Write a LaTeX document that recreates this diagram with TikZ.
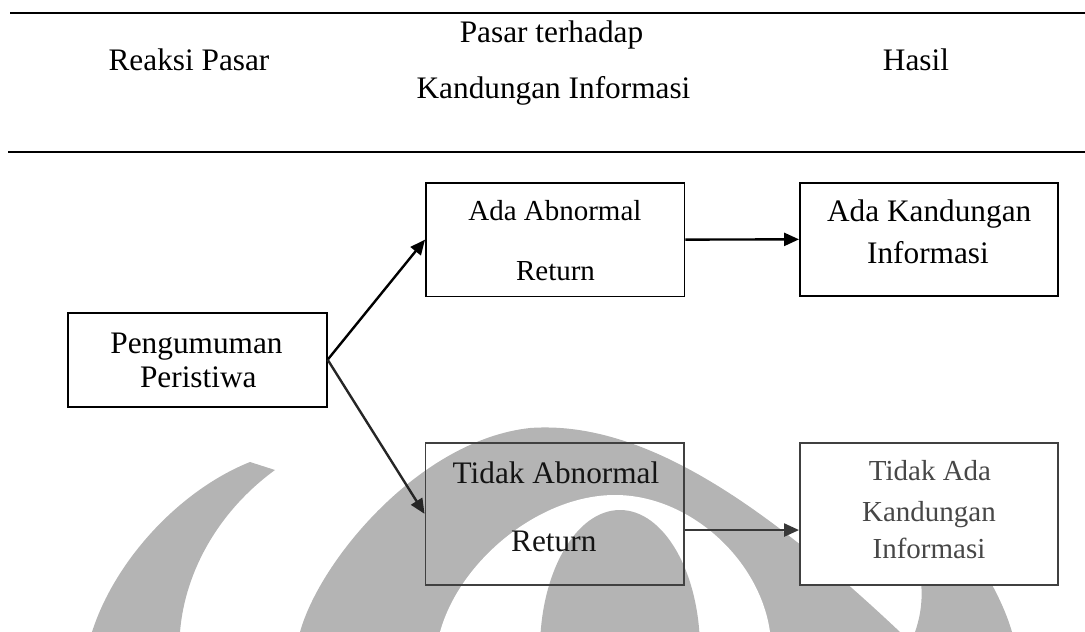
\documentclass[tikz,border=0pt]{standalone}
\usepackage{fontspec}
\setmainfont{Liberation Serif}
\usetikzlibrary{arrows.meta}
\definecolor{wmgray}{HTML}{B4B4B4}
\newcommand\fBig{\fontsize{31.3}{36}\selectfont}
\newcommand\fMid{\fontsize{29}{34}\selectfont}
\tikzset{
  rule/.style={line width=2.4pt},
  hdr/.style={anchor=base, inner sep=0pt, font=\fBig},
  txt/.style={anchor=base, inner sep=0pt, font=\fBig},
  txtm/.style={anchor=base, inner sep=0pt, font=\fMid},
  boxnode/.style={draw, line width=1.9pt, inner sep=0pt, fill=white},
  arr/.style={line width=2.4pt, -{Triangle[length=15pt,width=13pt]}},
  wm/.style={fill=wmgray, draw=none},
}
\begin{document}
\begin{tikzpicture}[x=1pt,y=-1pt]
\useasboundingbox (0,0) rectangle (1085,632);
% watermark (background logo)
\fill[wm] (300,632) .. controls (320,560) and (420,440) .. (530,428)
  .. controls (640,420) and (760,500) .. (900,632) -- cycle;
\fill[white] (440,632) .. controls (460,560) and (540,495) .. (615,495)
  .. controls (690,495) and (760,560) .. (770,632) -- cycle;
\fill[wm] (620,650) ellipse [x radius=80, y radius=140];
\fill[wm] (92,632) .. controls (115,560) and (180,490) .. (250,462)
  -- (275,470) .. controls (220,510) and (185,570) .. (180,632) -- cycle;
\fill[wm] (1012,632) .. controls (1000,590) and (960,520) .. (900,480)
  -- (880,500) .. controls (920,540) and (930,590) .. (915,632) -- cycle;
% header rules
\coordinate (r1a) at (10,12.7);  \coordinate (r1b) at (1085,12.7);
\coordinate (r2a) at (8,151.7);  \coordinate (r2b) at (1085,151.7);
\draw[rule] (r1a) -- (r1b);
\draw[rule] (r2a) -- (r2b);
% header texts
\node[hdr] (h1) at (189,70) {Reaksi Pasar};
\node[hdr] (h2a) at (551.5,42.5) {Pasar terhadap};
\node[hdr] (h2b) at (553.5,98.5) {Kandungan Informasi};
\node[hdr] (h3) at (916,70) {Hasil};
% boxes
\node[boxnode, minimum width=258.7pt, minimum height=94pt] (P) at (197.35,359.7) {};
\node[boxnode, minimum width=258.5pt, minimum height=113.8pt] (A) at (555.25,239.6) {};
\node[boxnode, minimum width=258pt, minimum height=113.3pt] (K) at (929,239.35) {};
\node[draw=black!75, line width=1.9pt, inner sep=0pt, minimum width=258.5pt, minimum height=142.3pt] (T) at (554.75,513.85) {};
\node[boxnode, draw=black!75, minimum width=258pt, minimum height=142.3pt] (N) at (929,513.85) {};
% box texts
\node[txt] (p1) at (196.5,353.3) {Pengumuman};
\node[txt] (p2) at (198.3,387) {Peristiwa};
\node[txtm] (a1) at (554.9,220.5) {Ada Abnormal};
\node[txtm] (a2) at (555.5,280) {Return};
\node[txt] (k1) at (929.2,221.7) {Ada Kandungan};
\node[txt] (k2) at (928,263) {Informasi};
\node[txt, text=black!92] (t1) at (556,483.3) {Tidak Abnormal};
\node[txt, text=black!92] (t2) at (553.8,551.7) {Return};
\node[txtm, text=black!72] (n1) at (930,480) {Tidak Ada};
\node[txtm, text=black!72] (n2) at (929,521.7) {Kandungan};
\node[txtm, text=black!72] (n3) at (929,558) {Informasi};
% connectors
\draw[arr] (P.east) -- (A.west);
\draw[arr, black!85] (P.east) -- (T.west);
\draw[arr] (A.east) -- (K.west);
\draw[arr, black!78] ([yshift=-16.2pt]T.east) -- ([yshift=-16.2pt]N.west);
\end{tikzpicture}
\end{document}
